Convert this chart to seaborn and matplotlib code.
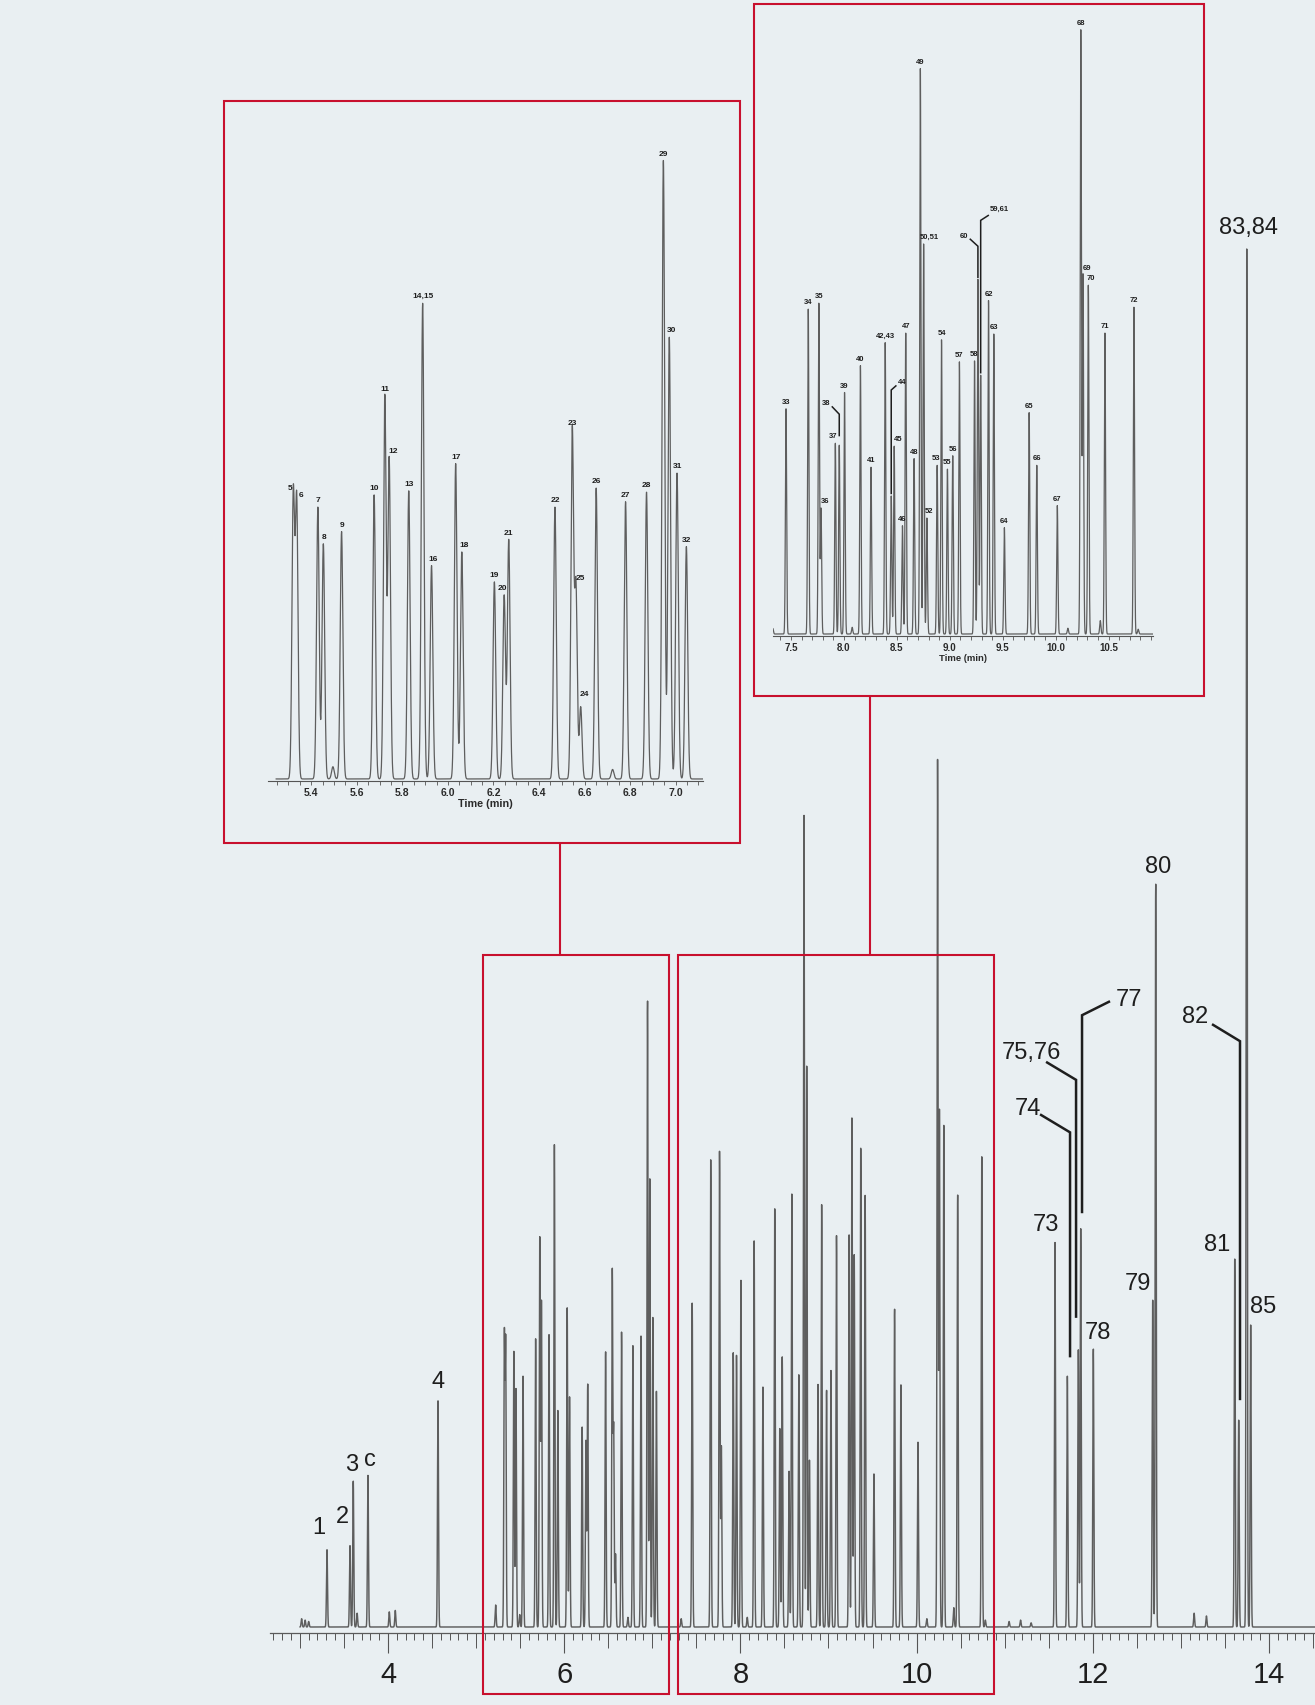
import numpy as np
import pandas as pd
import matplotlib
matplotlib.use("Agg")
import matplotlib.pyplot as plt
import seaborn as sns
from matplotlib.patches import Rectangle
from matplotlib.lines import Line2D
from matplotlib.ticker import (MultipleLocator, FixedLocator, NullFormatter,
                               FormatStrFormatter)

# retention time (min) of every peak
peak_time = [
    3.020, 3.060, 3.100, 3.308, 3.569, 3.606, 3.650, 3.773, 4.015, 4.083,
    4.568, 5.222, 5.321, 5.336, 5.429, 5.453, 5.495, 5.533, 5.676, 5.723,
    5.742, 5.828, 5.889, 5.928, 6.034, 6.061, 6.204, 6.247, 6.267, 6.470,
    6.546, 6.562, 6.583, 6.651, 6.723, 6.780, 6.872, 6.946, 6.972, 7.006,
    7.047, 7.328, 7.453, 7.663, 7.763, 7.784, 7.919, 7.956, 8.006, 8.078,
    8.156, 8.256, 8.390, 8.447, 8.475, 8.553, 8.584, 8.663, 8.722, 8.753,
    8.784, 8.881, 8.922, 8.978, 9.028, 9.091, 9.234, 9.266, 9.292, 9.366,
    9.416, 9.516, 9.750, 9.822, 10.016, 10.116, 10.238, 10.259, 10.309, 10.422,
    10.466, 10.740, 10.780, 11.050, 11.180, 11.300, 11.571, 11.711, 11.836, 11.863,
    12.006, 12.680, 12.714, 13.150, 13.290, 13.611, 13.656, 13.747, 13.792,
]
# peak height, % of the tallest peak (83,84)
peak_height = [
    0.6, 0.5, 0.4, 5.6, 5.9, 10.6, 1.0, 11.0, 1.1, 1.2,
    16.4, 1.6, 20.9, 20.4, 20.0, 17.3, 0.9, 18.2, 20.9, 28.2,
    23.6, 21.2, 35.0, 15.7, 23.2, 16.7, 14.5, 13.5, 17.6, 20.0,
    25.7, 14.2, 5.3, 21.4, 0.7, 20.4, 21.1, 45.5, 32.5, 22.5,
    17.1, 0.6, 23.5, 33.9, 34.5, 13.1, 19.9, 19.7, 25.2, 0.7,
    28.0, 17.4, 30.4, 14.4, 19.6, 11.3, 31.4, 18.3, 59.0, 40.7,
    12.1, 17.6, 30.7, 17.2, 18.6, 28.4, 28.5, 37.0, 27.0, 34.8,
    31.3, 11.1, 23.1, 17.6, 13.4, 0.6, 63.0, 37.5, 36.4, 1.4,
    31.4, 34.1, 0.5, 0.4, 0.5, 0.3, 27.9, 18.2, 20.1, 28.9,
    20.2, 23.7, 54.0, 1.0, 0.8, 26.7, 15.0, 100.0, 21.9,
]
# compound number printed at the peak ('' = unlabelled bump)
peak_label = [
    "", "", "", "1", "2", "3", "", "c", "", "",
    "4", "", "5", "6", "7", "8", "", "9", "10", "11",
    "12", "13", "14,15", "16", "17", "18", "19", "20", "21", "22",
    "23", "25", "24", "26", "", "27", "28", "29", "30", "31",
    "32", "", "33", "34", "35", "36", "37", "38", "39", "",
    "40", "41", "42,43", "44", "45", "46", "47", "48", "49", "50,51",
    "52", "53", "54", "55", "56", "57", "58", "60", "59,61", "62",
    "63", "64", "65", "66", "67", "", "68", "69", "70", "",
    "71", "72", "", "", "", "", "73", "74", "75,76", "77",
    "78", "79", "80", "", "", "81", "82", "83,84", "85",
]

main_ticks = [4, 6, 8, 10, 12, 14]
inset1_range = (5.21, 7.12)
inset2_range = (7.33, 10.92)

W, H = 1315, 1705
BG = "#e9eff2"
RED = "#c8102e"
TRACE = "#5e5e5e"
INK = "#1e1e1e"
TICK = "#555555"
SIGMA = 0.0058

# label offsets in pixels from the peak top (x right, y up)
main_offsets = {"1": (-8, 22), "2": (-8, 29), "3": (-2, 16), "c": (2, 15),
                "4": (0, 19), "73": (-9, 17), "78": (5, 15), "79": (-15, 16),
                "80": (2, 15), "81": (-18, 14), "83,84": (2, 20), "85": (12, 18)}
main_leaders = {
    "74": ([(2.7, 18.7), (2.7, 243.7), (-27.3, 261.7)], (-39.3, 266.7)),
    "75,76": ([(-2.3, 32), (-2.3, 270), (-32.3, 288)], (-46.8, 297)),
    "77": ([(1.3, 15.3), (1.3, 213.3), (29.3, 227.3)], (48.3, 229)),
    "82": ([(1.3, 20), (1.3, 379), (-26.7, 396)], (-43.2, 403.3)),
}
inset_offsets = {"5": (-3, 3), "6": (4, 3), "8": (1, 3), "12": (4, 3),
                 "16": (2, 3), "18": (2, 3), "20": (-2, 3), "25": (4, 4),
                 "24": (4, 9), "30": (2, 3), "36": (4, 3), "37": (-2, 3),
                 "45": (4, 3), "52": (2, 3), "53": (-1, 3), "58": (-1, 3),
                 "50,51": (6, 3), "69": (4, 3), "70": (3, 3)}
inset_leaders = {
    "38": ([(0, 8.9), (0, 31.0), (-7.5, 38.9)], (-12.8, 42.0)),
    "44": ([(0, 1.8), (0, 106), (5.2, 110.6)], (10.9, 113.7)),
    "60": ([(0, 1.3), (0, 33.2), (-8.2, 40.7)], (-13.8, 43.4)),
    "59,61": ([(0, 1.8), (0, 154.9), (8.2, 160.2)], (18.7, 166)),
}

sns.set_style("ticks")
plt.rcParams["font.family"] = ["Liberation Sans", "DejaVu Sans"]


def trace(t0, t1, step):
    t = np.arange(t0, t1, step)
    y = np.zeros_like(t)
    for pt, ph in zip(peak_time, peak_height):
        y += ph * np.exp(-0.5 * ((t - pt) / SIGMA) ** 2)
    return pd.DataFrame({"time": t, "signal": y})


def rect(x0, y0, x1, y1):
    # pixel box with top-left origin -> figure fraction
    return [x0 / W, 1 - y1 / H, (x1 - x0) / W, (y1 - y0) / H]


def leader(ax, t, h, pts, toff, text, fs, lw, weight="normal"):
    x0, y0 = ax.transData.transform((t, h))
    inv = ax.transData.inverted()
    xy = np.array([inv.transform((x0 + dx, y0 + dy)) for dx, dy in pts])
    ax.plot(xy[:, 0], xy[:, 1], color=INK, lw=lw, solid_joinstyle="miter",
            solid_capstyle="butt", clip_on=False)
    ax.annotate(text, (t, h), xytext=toff, textcoords="offset pixels",
                ha="center", va="center", fontsize=fs, color=INK,
                fontweight=weight, annotation_clip=False)


fig = plt.figure(figsize=(W / 100, H / 100), dpi=100)
fig.patch.set_facecolor(BG)

# ---- main chromatogram ----
ax = fig.add_axes(rect(270, 0, 1315, 1633))
ax.set_facecolor("none")
sns.lineplot(data=trace(3.0, 14.53, 0.0008), x="time", y="signal", ax=ax,
             color=TRACE, lw=1.05, estimator=None, sort=False)
ax.set_xlim(2.661, 14.522)
ax.set_ylim(-0.435, 118.0)
ax.set(xlabel="", ylabel="")
ax.set_yticks([])
for s in ["left", "right", "top"]:
    ax.spines[s].set_visible(False)
ax.spines["bottom"].set_color("#5a5a5a")
ax.spines["bottom"].set_linewidth(0.9)
ax.xaxis.set_major_locator(FixedLocator(main_ticks))
ax.xaxis.set_major_formatter(FormatStrFormatter("%d"))
ax.xaxis.set_minor_locator(MultipleLocator(0.1))
ax.tick_params(axis="x", which="major", bottom=True, direction="out", length=14.4,
               width=0.8, color=TICK, labelsize=21, pad=6, labelcolor=INK)
ax.tick_params(axis="x", which="minor", bottom=True, direction="out", length=5,
               width=0.7, color=TICK)
sec = ax.secondary_xaxis("bottom")
sec.xaxis.set_major_locator(MultipleLocator(0.5))
sec.xaxis.set_major_formatter(NullFormatter())
sec.tick_params(bottom=True, direction="out", length=11, width=0.7, color=TICK)
sec.spines["bottom"].set_visible(False)

for t, h, lab in zip(peak_time, peak_height, peak_label):
    if lab in main_offsets:
        ax.annotate(lab, (t, h), xytext=main_offsets[lab],
                    textcoords="offset pixels", ha="center", va="center",
                    fontsize=17, color=INK)
    elif lab in main_leaders:
        pts, toff = main_leaders[lab]
        leader(ax, t, h, pts, toff, lab, 17, 1.8)

# ---- insets: (x-range, trace start, box, major, minor, font sizes) ----
insets = [
    (inset1_range, 5.245, rect(268, 150, 703, 781), 0.2, 0.05, 7.5, 6.0, 7.8),
    (inset2_range, 7.31, rect(773, 20, 1153, 636), 0.5, 0.1, 7.0, 5.5, 6.8),
]
for (t0, t1), tstart, pos, major, minor, tfs, lfs, xfs in insets:
    ia = fig.add_axes(pos)
    ia.set_facecolor("none")
    sns.lineplot(data=trace(tstart, t1, 0.0003), x="time", y="signal", ax=ia,
                 color=TRACE, lw=0.9, estimator=None, sort=False)
    hmax = max(h for t, h in zip(peak_time, peak_height) if t0 <= t <= t1)
    ia.set_xlim(t0, t1)
    ia.set_ylim(-0.0033 * hmax, 1.017 * hmax)
    ia.set_yticks([])
    for s in ["left", "right", "top"]:
        ia.spines[s].set_visible(False)
    ia.spines["bottom"].set_color(TICK)
    ia.spines["bottom"].set_linewidth(0.8)
    ia.xaxis.set_major_locator(MultipleLocator(major))
    ia.xaxis.set_minor_locator(MultipleLocator(minor))
    ia.xaxis.set_major_formatter(FormatStrFormatter("%.1f"))
    ia.tick_params(axis="x", which="both", bottom=True, direction="out",
                   length=3, width=0.6, color=TICK)
    ia.tick_params(axis="x", which="major", labelsize=tfs, pad=2,
                   labelcolor="#2a2a2a")
    for lbl in ia.get_xticklabels():
        lbl.set_fontweight("bold")
    ia.set_xlabel("Time (min)", fontsize=xfs, fontweight="bold", color="#2a2a2a",
                  labelpad=1)
    ia.set_ylabel("")
    for t, h, lab in zip(peak_time, peak_height, peak_label):
        if not lab or not (t0 <= t <= t1):
            continue
        if lab in inset_leaders:
            pts, toff = inset_leaders[lab]
            leader(ia, t, h, pts, toff, lab, lfs, 1.1, weight="bold")
        else:
            ia.annotate(lab, (t, h), xytext=inset_offsets.get(lab, (0, 3)),
                        textcoords="offset pixels", ha="center", va="bottom",
                        fontsize=lfs, fontweight="bold", color=INK)

# ---- red frames and connectors ----
for x0, y0, x1, y1 in [(224, 101, 740, 843), (754, 4, 1204, 696),
                       (483, 955, 669, 1694), (678, 955, 994, 1694)]:
    r = rect(x0, y0, x1, y1)
    fig.add_artist(Rectangle((r[0], r[1]), r[2], r[3], transform=fig.transFigure,
                             fill=False, ec=RED, lw=1.5, zorder=10))
for x, y0, y1 in [(560, 843, 955), (870, 696, 955)]:
    fig.add_artist(Line2D([x / W, x / W], [1 - y0 / H, 1 - y1 / H],
                          transform=fig.transFigure, color=RED, lw=1.5, zorder=10))

fig.savefig("out.png", dpi=100, facecolor=BG)
